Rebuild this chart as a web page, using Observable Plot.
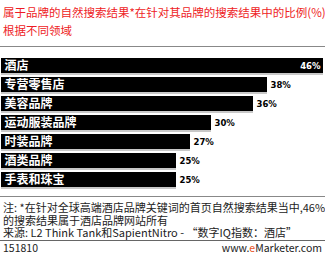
<!DOCTYPE html>
<html><head><meta charset="utf-8">
<script src="https://cdn.jsdelivr.net/npm/d3@7"></script>
<script src="https://cdn.jsdelivr.net/npm/@observablehq/plot@0.6"></script>
<style>
body{margin:0;width:325px;height:255px;overflow:hidden;background:#fff;font-family:"Noto Sans CJK SC",sans-serif;position:relative}
.t{position:absolute;left:3px;color:#ee1c25;font-size:11.5px;line-height:14px;height:14px;white-space:nowrap}
#chart{position:absolute;left:0;top:44px}
.n{position:absolute;left:3px;font-size:11px;line-height:12px;height:12px;color:#222;white-space:nowrap}
#rule{position:absolute;left:0;top:240px;width:325px;height:1px;background:#666}
.f{position:absolute;top:241px;font-size:10.5px;line-height:13px;color:#222}
#site span{color:#e8541e}
</style></head>
<body>
<div class="t" style="top:5px">属于品牌的自然搜索结果*在针对其品牌的搜索结果中的比例(%)</div>
<div class="t" style="top:23px">根据不同领域</div>
<div id="chart"></div>
<div class="n" style="top:201px">注: *在针对全球高端酒店品牌关键词的首页自然搜索结果当中,46%</div>
<div class="n" style="top:213.5px">的搜索结果属于酒店品牌网站所有</div>
<div class="n" style="top:226px">来源: L2 Think Tank和SapientNitro - “数字IQ指数：酒店”</div>
<div id="rule"></div>
<div class="f" style="left:3px">151810</div>
<div class="f" id="site" style="right:3px">www.<span>e</span>Marketer.com</div>
<script>
const categories = ["酒店", "专营零售店", "美容品牌", "运动服装品牌", "时装品牌", "酒类品牌", "手表和珠宝"];
const values = [46, 38, 36, 30, 27, 25, 25];
const valueLabels = ["46%", "38%", "36%", "30%", "27%", "25%", "25%"];
const data = categories.map((c, i) => ({category: c, value: values[i], label: valueLabels[i]}));
const W = 325, H = 155;
const chart = Plot.plot({
  width: W, height: H,
  marginLeft: 1, marginRight: 2, marginTop: 9, marginBottom: 7,
  x: {domain: [0, 46], axis: null},
  y: {domain: categories, axis: null, paddingInner: 0.2, paddingOuter: 0.1},
  style: {fontFamily: '"Noto Sans CJK SC", sans-serif', background: "#fff"},
  marks: [
    Plot.barX(data, {x: "value", y: "category", fill: "#c8c8c8", dy: 1, insetBottom: -1}),
    Plot.barX(data, {x: "value", y: "category", fill: "#000"}),
    Plot.text(data, {x: 0, y: "category", text: "category", textAnchor: "start", dx: 3, fill: "#fff", fontSize: 12, fontWeight: "bold"}),
    Plot.text(data.filter(d => d.value < 46), {x: "value", y: "category", text: "label", textAnchor: "start", dx: 3, fill: "#000", fontSize: 8.5, fontWeight: "bold", fontFamily: "DejaVu Sans"}),
    Plot.text(data.filter(d => d.value >= 46), {x: "value", y: "category", text: "label", textAnchor: "end", dx: -3, fill: "#fff", fontSize: 8.5, fontWeight: "bold", fontFamily: "DejaVu Sans"})
  ]
});
const svg = d3.select(chart);
svg.append("line").attr("x1", 0).attr("x2", W).attr("y1", 2.5).attr("y2", 2.5).attr("stroke", "#888").attr("stroke-width", 1);
svg.append("line").attr("x1", 0).attr("x2", W).attr("y1", 152.5).attr("y2", 152.5).attr("stroke", "#888").attr("stroke-width", 1);
document.getElementById("chart").appendChild(chart);
</script>
</body></html>
